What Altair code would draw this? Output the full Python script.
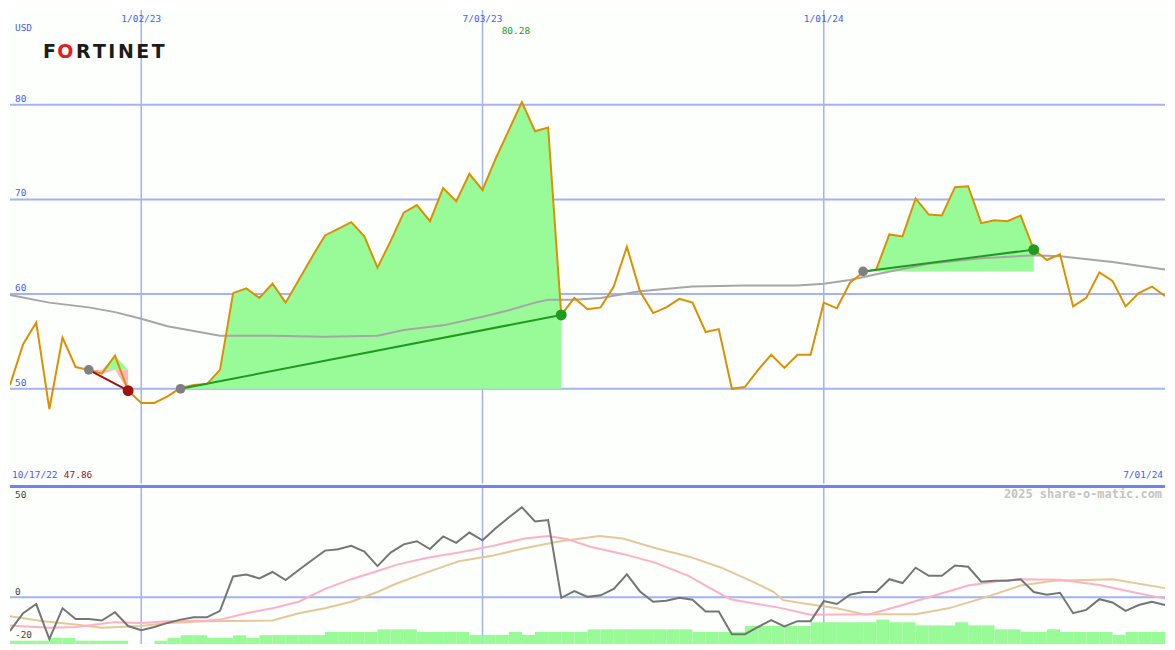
import altair as alt
import pandas as pd

# ---------------- values ----------------
weeks = list(range(89))
price = [50.4, 54.7, 57.0, 47.86, 55.4, 52.3, 52.0, 51.6, 53.5, 49.8,
         48.5, 48.5, 49.2, 50.1, 50.4, 50.5, 52.0, 60.1, 60.6, 59.6,
         61.1, 59.1, 61.5, 63.9, 66.2, 66.9, 67.6, 66.1, 62.8, 65.6,
         68.6, 69.4, 67.7, 71.2, 69.8, 72.7, 71.0, 74.3, 77.3, 80.28,
         77.2, 77.6, 57.8, 59.6, 58.4, 58.6, 60.8, 65.0, 60.3, 58.0,
         58.6, 59.5, 59.1, 56.0, 56.3, 50.0, 50.2, 52.0, 53.6, 52.2,
         53.6, 53.6, 59.1, 58.5, 61.2, 62.3, 62.6, 66.3, 66.1, 70.1,
         68.4, 68.3, 71.3, 71.4, 67.5, 67.8, 67.7, 68.3, 64.7, 63.6,
         64.2, 58.7, 59.6, 62.3, 61.4, 58.7, 60.1, 60.8, 59.8]
ma_weeks = [0, 3, 6, 8, 10, 12, 14, 16, 20, 24, 28, 30, 33, 36, 38, 40, 41, 43,
            45, 48, 52, 56, 60, 62, 64, 66, 70, 74, 78, 80, 84, 88]
ma_values = [59.9, 59.1, 58.6, 58.1, 57.4, 56.6, 56.1, 55.6, 55.6, 55.5, 55.6, 56.2,
             56.7, 57.6, 58.3, 59.1, 59.4, 59.4, 59.6, 60.3, 60.8, 60.9, 60.9, 61.1,
             61.5, 62.1, 63.2, 63.8, 64.1, 64.0, 63.4, 62.6]
price_gridlines = [50, 60, 70, 80]
date_weeks = [10, 36, 62]
date_labels = ["1/02/23", "7/03/23", "1/01/24"]
start_label = "10/17/22"
end_label = "7/01/24"
currency = "USD"
brand = "FORTINET"
credit = "2025 share-o-matic.com"

entry_weeks = [6, 13, 65]
entry_prices = [52.0, 50.0, 62.4]
exit_weeks = [9, 42, 78]
exit_prices = [49.8, 57.8, 64.7]
trade_results = ["loss", "win", "win"]

osc_values = [-17.3, -8.2, -3.5, -21.5, -5.7, -11.2, -11.2, -12.0, -7.7, -14.8,
              -17.0, -15.3, -13.2, -11.5, -10.3, -10.3, -7.0, 10.7, 11.7, 9.7,
              13.0, 8.8, 14.0, 19.0, 24.0, 24.7, 26.5, 23.5, 16.0, 23.0,
              27.2, 28.8, 24.8, 31.3, 28.0, 33.3, 29.3, 35.5, 41.0, 46.3,
              39.0, 39.7, -0.3, 3.2, 0.2, 1.0, 4.3, 11.8, 3.0, -2.3,
              -1.8, -0.3, -1.3, -7.3, -7.3, -19.0, -19.0, -15.3, -11.8, -15.0,
              -12.3, -12.3, -2.0, -3.5, 1.3, 2.7, 2.7, 9.3, 7.3, 15.2,
              11.0, 11.0, 16.3, 15.7, 8.0, 8.5, 8.5, 9.3, 2.7, 1.3,
              2.3, -8.2, -6.5, -1.0, -2.7, -7.0, -4.0, -2.3, -4.0]
pink_weeks = [0, 3, 5, 8, 10, 12, 15, 16, 18, 20, 22, 24, 26, 28, 29.5, 31.7, 34.2,
              36.7, 39.2, 41, 42.5, 44.2, 46.7, 49.2, 51.7, 53.2, 54.9, 56.7, 58.5,
              60.5, 61, 65.5, 68, 70.5, 73, 75.5, 77, 80, 83, 85.5, 88]
pink_values = [-14.5, -15.7, -15.3, -12.8, -13.2, -12.3, -12, -11.5, -8.2, -5.7, -2.3,
               4.3, 9.3, 13.5, 16.8, 20.2, 23, 26.3, 30.2, 31.5, 29.8, 26, 22.3, 17.7,
               11, 5.2, -1, -3.2, -5.2, -8.2, -9, -8.7, -4, 1, 6, 8.5, 9.3, 9, 6.3,
               2.7, -0.7]
tan_weeks = [0, 2.5, 5, 7, 10, 12, 15, 20, 22, 24, 26, 28, 29.5, 31.7, 34.2, 36.7,
             39.2, 41.7, 44.9, 46.7, 49.2, 51.7, 54.2, 56.7, 58.2, 58.9, 60.5, 63, 65,
             69, 71.5, 74, 77, 79.5, 84, 88]
tan_values = [-9.8, -12.3, -14, -15.7, -14.8, -13.2, -12.3, -12, -8.2, -5.7, -2.3, 2.7,
              7.2, 12.7, 18.5, 21.3, 25.2, 28.5, 31.5, 30.2, 25.2, 21, 15.2, 7.7, 2.7,
              -1.5, -3.2, -5.7, -8.7, -8.7, -5.7, -0.7, 6, 8.5, 9.3, 4.7]
volume = [3.3, 3.3, 3.3, 6, 6, 3.3, 3.3, 3.3, 3.3, 0,
          0, 3.3, 6, 9, 9, 6, 6, 9, 6, 9,
          9, 9, 9, 9, 12.3, 12.3, 12.3, 12.3, 15, 15,
          15, 12.3, 12.3, 12.3, 12.3, 9.3, 9.3, 9.3, 12.3, 9.3,
          12.3, 12.3, 12.3, 12.3, 15, 15, 15, 15, 15, 15,
          15, 15, 12.3, 12.3, 12.3, 12.3, 18.5, 18.5, 18.5, 18.5,
          18.5, 22.3, 22.3, 22.3, 22.3, 22.3, 25, 22.3, 22.3, 19,
          19, 19, 22.3, 19, 19, 15, 15, 12.3, 12.3, 15,
          12.3, 12.3, 12.3, 12.3, 9.3, 12.3, 12.3, 12.3]
osc_ticks_upper = [50, 0]
osc_ticks_lower = [-20]

# ---------------- tables ----------------
price_df = pd.DataFrame({"w": weeks, "p": price})
ma_df = pd.DataFrame({"w": ma_weeks, "p": ma_values})
grid_df = pd.DataFrame({"g": price_gridlines, "t": [str(g) for g in price_gridlines]})
dates_df = pd.DataFrame({"w": date_weeks, "t": date_labels})
imax = max(range(len(price)), key=lambda i: price[i])
imin = min(range(len(price)), key=lambda i: price[i])
max_df = pd.DataFrame({"w": [weeks[imax]], "t": [f"{price[imax]:.2f}"]})
min_df = pd.DataFrame({"t": [f"{price[imin]:.2f}"]})

fill_rows, line_rows = [], []
for i in range(len(entry_weeks)):
    for w in range(entry_weeks[i], exit_weeks[i] + 1):
        fill_rows.append({"trade": i, "w": w, "p": price[w], "e": entry_prices[i]})
    line_rows.append({"trade": i, "w": entry_weeks[i], "p": entry_prices[i], "r": trade_results[i], "k": "entry"})
    line_rows.append({"trade": i, "w": exit_weeks[i], "p": exit_prices[i], "r": trade_results[i], "k": "exit"})
fill_df = pd.DataFrame(fill_rows)
trade_df = pd.DataFrame(line_rows)

osc_df = pd.DataFrame({"w": weeks, "v": osc_values})
pink_df = pd.DataFrame({"w": pink_weeks, "v": pink_values})
tan_df = pd.DataFrame({"w": tan_weeks, "v": tan_values})
vol_df = pd.DataFrame({"w0": weeks[:-1], "w1": weeks[1:], "vol": volume})
dates_only = pd.DataFrame({"w": date_weeks})
one = pd.DataFrame({"a": [0]})

# ---------------- styling ----------------
W, HT, HB = 1159, 475, 158
BG = "#fcfffc"
GRID = "#a6b2f2"
BLUE_TXT = "#4b5cf2"
FONT = "DejaVu Sans Mono"
FS = 9.5
LOGO_X, LOGO_Y = 33, 42
LOGO_OFFSETS = [0, 14.5, 33.2, 50.4, 65.7, 75.3, 93.7, 109.2]
LOGO_COLORS = ["#1c1c1c", "#e32020", "#1c1c1c", "#1c1c1c", "#1c1c1c", "#1c1c1c", "#1c1c1c", "#1c1c1c"]

xs = alt.Scale(domain=[0, 88], nice=False, zero=False)
yt = alt.Scale(domain=[40, 90], nice=False, zero=False)
yb = alt.Scale(domain=[-24, 57], nice=False, zero=False)


def X(f="w"):
    return alt.X(f"{f}:Q", scale=xs, axis=None)


def YT(f="p"):
    return alt.Y(f"{f}:Q", scale=yt, axis=None)


def YB(f="v"):
    return alt.Y(f"{f}:Q", scale=yb, axis=None)


result_line = alt.Color("r:N", scale=alt.Scale(domain=["loss", "win"], range=["#a01010", "#209a20"]), legend=None)
result_dot = alt.Color("r:N", scale=alt.Scale(domain=["loss", "win"], range=["#b01818", "#1f8f1f"]), legend=None)

# ---------------- top panel ----------------
hgrid = alt.Chart(grid_df).mark_rule(color=GRID, strokeWidth=2).encode(y=YT("g"))
vgrid_t = alt.Chart(dates_only).mark_rule(color=GRID, strokeWidth=1.5).encode(x=X())
green_fill = alt.Chart(fill_df).transform_calculate(hi="max(datum.p, datum.e)").mark_area(
    color="#98fb98", opacity=1, clip=True).encode(x=X(), y=YT("hi"), y2="e:Q", detail="trade:N")
pink_fill = alt.Chart(fill_df).transform_calculate(lo="min(datum.p, datum.e)").mark_area(
    color="#ffb6c1", opacity=1, clip=True).encode(x=X(), y=YT("lo"), y2="e:Q", detail="trade:N")
ma_line = alt.Chart(ma_df).mark_line(color="#a6a6a6", strokeWidth=2, clip=True).encode(x=X(), y=YT())
price_line = alt.Chart(price_df).mark_line(color="#dc9000", strokeWidth=2, clip=True).encode(x=X(), y=YT())
trade_lines = alt.Chart(trade_df).mark_line(strokeWidth=2).encode(x=X(), y=YT(), detail="trade:N", color=result_line)
entry_dots = alt.Chart(trade_df).transform_filter("datum.k == 'entry'").mark_circle(
    color="#808080", size=95, opacity=1).encode(x=X(), y=YT())
exit_dots = alt.Chart(trade_df).transform_filter("datum.k == 'exit'").mark_circle(
    size=120, opacity=1).encode(x=X(), y=YT(), color=result_dot)

usd_t = alt.Chart(one).mark_text(text=currency, align="left", baseline="middle", font=FONT, fontSize=FS,
                                 color=BLUE_TXT).encode(x=alt.value(5), y=alt.value(17.5))
grid_t = alt.Chart(grid_df).mark_text(align="left", baseline="middle", font=FONT, fontSize=FS, color=BLUE_TXT,
                                      dy=-6).encode(x=alt.value(5), y=YT("g"), text="t:N")
date_t = alt.Chart(dates_df).mark_text(align="center", baseline="middle", font=FONT, fontSize=FS,
                                       color=BLUE_TXT).encode(x=X(), y=alt.value(9), text="t:N")
max_t = alt.Chart(max_df).mark_text(align="center", baseline="middle", font=FONT, fontSize=FS, color="#1f9a1f",
                                    dx=-6).encode(x=X(), y=alt.value(20.5), text="t:N")
start_t = alt.Chart(one).mark_text(text=start_label, align="left", baseline="middle", font=FONT, fontSize=FS,
                                   color=BLUE_TXT).encode(x=alt.value(2), y=alt.value(467))
min_t = alt.Chart(min_df).mark_text(align="left", baseline="middle", font=FONT, fontSize=FS,
                                    color="#a01818").encode(x=alt.value(54), y=alt.value(467), text="t:N")
end_t = alt.Chart(one).mark_text(text=end_label, align="right", baseline="middle", font=FONT, fontSize=FS,
                                 color=BLUE_TXT).encode(x=alt.value(1157), y=alt.value(467))
logo_layers = [
    alt.Chart(one).mark_text(text=ch, align="left", baseline="middle", font="DejaVu Sans", fontWeight="bold",
                             fontSize=19, color=col, dx=off).encode(x=alt.value(LOGO_X), y=alt.value(LOGO_Y))
    for ch, off, col in zip(brand, LOGO_OFFSETS, LOGO_COLORS)
]

top = alt.layer(hgrid, vgrid_t, green_fill, pink_fill, ma_line, price_line, trade_lines, entry_dots, exit_dots,
                usd_t, grid_t, date_t, max_t, start_t, min_t, end_t, *logo_layers
                ).properties(width=W, height=HT)

# ---------------- bottom panel ----------------
vgrid_b = alt.Chart(dates_only).mark_rule(color=GRID, strokeWidth=1.5).encode(x=X())
zero_rule = alt.Chart(pd.DataFrame({"v": [0]})).mark_rule(color=GRID, strokeWidth=2).encode(y=YB())
bars = alt.Chart(vol_df).transform_calculate(top="-24 + datum.vol / 2", base="-24").mark_rect(
    color="#98fb98", clip=True).encode(x=X("w0"), x2="w1:Q", y=YB("top"), y2="base:Q")
tan_line = alt.Chart(tan_df).mark_line(color="#e6c898", strokeWidth=2, clip=True).encode(x=X(), y=YB())
pink_line = alt.Chart(pink_df).mark_line(color="#ffb0c6", strokeWidth=2, clip=True).encode(x=X(), y=YB())
osc_line = alt.Chart(osc_df).mark_line(color="#757575", strokeWidth=2, clip=True).encode(x=X(), y=YB())
sep = alt.Chart(pd.DataFrame({"v": [57]})).mark_rule(color="#7383ee", strokeWidth=3).encode(y=YB())
tick_up = alt.Chart(pd.DataFrame({"v": osc_ticks_upper})).mark_text(
    align="left", baseline="middle", font=FONT, fontSize=FS, color="#454545", dy=-5
).encode(x=alt.value(5), y=YB(), text="v:N")
tick_lo = alt.Chart(pd.DataFrame({"v": osc_ticks_lower})).mark_text(
    align="left", baseline="middle", font=FONT, fontSize=FS, color="#454545", dy=-1
).encode(x=alt.value(5), y=YB(), text="v:N")
credit_t = alt.Chart(one).mark_text(text=credit, align="right", baseline="middle", font=FONT, fontSize=12,
                                    fontWeight="bold", color="#c4c4c4").encode(x=alt.value(1156), y=alt.value(8))

bottom = alt.layer(vgrid_b, zero_rule, bars, tan_line, pink_line, osc_line, sep, tick_up, tick_lo, credit_t
                   ).properties(width=W, height=HB)

chart = alt.vconcat(top, bottom, spacing=0).properties(padding=0, background=BG).configure_view(
    stroke=None, fill=BG).configure_concat(spacing=0)

chart.save("out.html", embed_options={"renderer": "svg", "actions": False})
